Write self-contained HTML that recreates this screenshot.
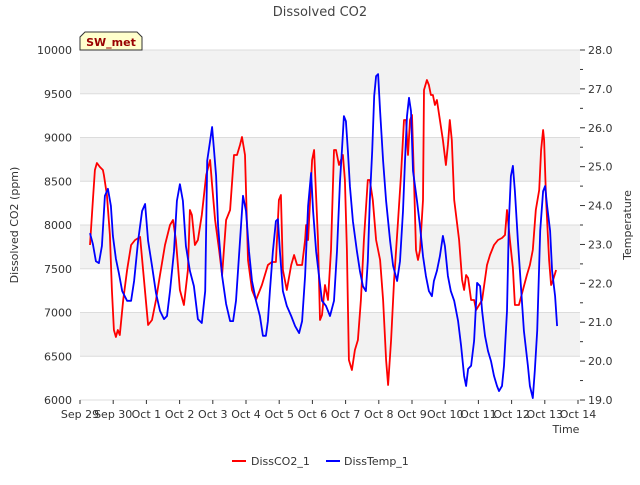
<!DOCTYPE html>
<html><head><meta charset="utf-8"><style>
body{margin:0;background:#fff;font-family:"Liberation Sans","DejaVu Sans",sans-serif}
svg text{font-family:"DejaVu Sans","Liberation Sans",sans-serif}
</style></head><body>
<svg id="c" width="640" height="480"></svg>
<script>
const xDays=[0,1,2,3,4,5,6,7,8,9,10,11,12,13,14,15];
const xLabels=["Sep 29","Sep 30","Oct 1","Oct 2","Oct 3","Oct 4","Oct 5","Oct 6","Oct 7","Oct 8","Oct 9","Oct 10","Oct 11","Oct 12","Oct 13","Oct 14"];
const leftTicks=[6000,6500,7000,7500,8000,8500,9000,9500,10000];
const rightTicks=[19,20,21,22,23,24,25,26,27,28];
const co2Days=[0.30,0.39,0.45,0.51,0.60,0.69,0.72,0.81,0.90,0.96,1.02,1.08,1.14,1.20,1.30,1.42,1.54,1.66,1.81,1.90,2.05,2.17,2.29,2.41,2.56,2.71,2.80,2.89,3.01,3.13,3.25,3.31,3.37,3.46,3.55,3.67,3.80,3.92,3.98,4.07,4.19,4.28,4.40,4.52,4.64,4.73,4.82,4.88,4.97,5.06,5.18,5.30,5.48,5.66,5.78,5.90,5.99,6.05,6.11,6.23,6.36,6.45,6.54,6.69,6.78,6.81,6.87,6.99,7.05,7.17,7.23,7.29,7.38,7.47,7.56,7.65,7.71,7.80,7.92,7.98,8.04,8.10,8.19,8.28,8.37,8.46,8.55,8.67,8.73,8.82,8.92,8.98,9.04,9.13,9.22,9.28,9.37,9.46,9.58,9.67,9.76,9.82,9.88,9.94,10.00,10.06,10.12,10.18,10.24,10.33,10.36,10.45,10.51,10.57,10.63,10.69,10.75,10.84,10.93,11.02,11.08,11.14,11.20,11.27,11.42,11.51,11.57,11.63,11.69,11.78,11.87,11.93,12.02,12.11,12.26,12.35,12.47,12.59,12.71,12.80,12.86,12.95,13.04,13.10,13.22,13.34,13.46,13.55,13.64,13.73,13.83,13.89,13.95,13.98,14.04,14.13,14.19,14.25,14.34];
const co2Vals=[7771,8286,8629,8708,8663,8629,8571,8343,7886,7257,6800,6720,6800,6743,7143,7486,7771,7829,7863,7486,6857,6914,7143,7429,7771,8000,8057,7829,7257,7086,7486,8171,8114,7771,7829,8114,8571,8743,8457,8057,7714,7429,8057,8171,8800,8800,8914,9006,8800,7600,7257,7143,7314,7543,7577,7577,8286,8343,7486,7257,7543,7657,7543,7543,7829,8000,7829,8743,8857,7829,6914,6971,7314,7143,7714,8857,8857,8686,8800,8514,7714,6457,6343,6571,6686,7143,7829,8514,8514,8286,7829,7714,7600,7143,6457,6171,6686,7371,8057,8571,9200,9200,8800,9200,9257,8514,7714,7600,7714,8286,9543,9657,9600,9486,9486,9371,9429,9200,8971,8686,8914,9200,8971,8286,7829,7371,7257,7429,7394,7143,7143,7029,7086,7143,7543,7657,7771,7829,7851,7886,8171,7829,7509,7086,7086,7257,7429,7543,7714,8171,8400,8857,9086,8971,8286,7600,7314,7371,7486];
const tempDays=[0.30,0.39,0.48,0.57,0.66,0.75,0.84,0.93,0.99,1.08,1.17,1.27,1.42,1.54,1.63,1.75,1.87,1.96,2.05,2.17,2.29,2.41,2.53,2.62,2.71,2.83,2.92,3.01,3.10,3.19,3.31,3.43,3.55,3.67,3.77,3.83,3.92,3.98,4.04,4.10,4.16,4.28,4.40,4.52,4.61,4.70,4.82,4.91,5.00,5.09,5.18,5.30,5.42,5.51,5.60,5.66,5.72,5.81,5.90,5.96,6.02,6.11,6.23,6.36,6.48,6.60,6.69,6.78,6.87,6.96,7.02,7.11,7.20,7.29,7.41,7.53,7.65,7.74,7.83,7.89,7.95,8.01,8.07,8.13,8.22,8.34,8.43,8.52,8.61,8.67,8.73,8.80,8.86,8.92,8.98,9.04,9.13,9.22,9.34,9.43,9.55,9.64,9.73,9.79,9.85,9.91,9.97,10.03,10.15,10.24,10.33,10.42,10.51,10.60,10.66,10.75,10.84,10.93,10.99,11.08,11.17,11.27,11.39,11.48,11.57,11.63,11.69,11.78,11.87,11.96,12.05,12.11,12.20,12.29,12.38,12.47,12.56,12.62,12.71,12.77,12.86,12.92,12.98,13.04,13.10,13.19,13.28,13.37,13.49,13.55,13.64,13.70,13.77,13.86,13.95,14.01,14.07,14.16,14.22,14.31,14.37];
const tempVals=[23.29,23.01,22.57,22.52,22.96,24.25,24.43,23.99,23.22,22.63,22.27,21.80,21.55,21.55,22.06,23.09,23.86,24.04,23.09,22.45,21.75,21.29,21.08,21.16,21.80,22.83,24.12,24.55,24.12,22.96,22.32,21.93,21.08,20.98,21.80,25.15,25.66,26.02,25.40,24.76,23.47,22.19,21.47,21.03,21.03,21.55,23.09,24.25,23.86,22.83,22.06,21.55,21.16,20.65,20.65,21.03,21.80,22.83,23.60,23.65,22.83,21.80,21.42,21.16,20.90,20.72,21.03,22.19,23.99,24.84,23.86,22.83,22.19,21.55,21.42,21.16,21.55,22.83,24.63,25.40,26.30,26.17,25.40,24.50,23.60,22.83,22.32,21.93,21.80,22.57,24.12,25.40,26.82,27.33,27.38,26.43,25.15,24.12,23.09,22.45,22.06,22.57,23.86,25.15,26.30,26.77,26.43,24.89,24.12,23.47,22.70,22.19,21.80,21.67,22.06,22.32,22.70,23.22,22.96,22.19,21.80,21.55,21.03,20.39,19.62,19.36,19.80,19.88,20.52,22.01,21.93,21.29,20.65,20.26,20.00,19.62,19.36,19.23,19.36,19.88,21.29,23.60,24.76,25.02,24.37,23.09,21.93,20.78,19.88,19.36,19.05,19.75,20.78,23.35,24.37,24.50,23.99,23.35,22.32,21.67,20.90];

const NS="http://www.w3.org/2000/svg";
const svg=document.getElementById('c');
const L=80,R=580,T=50,B=400;
const xs=d=>L+d*(498/15);
const yl=v=>B-(v-6000)/4000*(B-T);
const yr=v=>B-(v-19)/9*(B-T);
function mk(tag,attrs,parent){const e=document.createElementNS(NS,tag);for(const k in attrs)e.setAttribute(k,attrs[k]);(parent||svg).appendChild(e);return e;}
function txt(s,attrs){const e=mk('text',attrs);e.textContent=s;return e;}

let bg=mk('rect',{x:L,y:T,width:R-L,height:B-T,fill:'#fff'});


for(let v=6500;v<10000;v+=1000){
  const b=mk('rect',{x:L,y:yl(v+500),width:R-L,height:yl(v)-yl(v+500),fill:'#f2f2f2'});
  
  
}
leftTicks.forEach(v=>{
  const g=mk('line',{x1:L,x2:R,y1:yl(v),y2:yl(v),stroke:'#dcdcdc','stroke-width':1});
  
  
  const t=txt(v,{x:L-8,y:yl(v)+4,'text-anchor':'end','font-size':11,fill:'#333'});
  
  
});
rightTicks.forEach(v=>{
  const tk=mk('line',{x1:R,x2:R+5,y1:yr(v),y2:yr(v),stroke:'#333'});
  
  
  if(v<28){const m=mk('line',{x1:R,x2:R+3,y1:yr(v+0.5),y2:yr(v+0.5),stroke:'#333'});
  
  }
  const t=txt(v.toFixed(1),{x:R+8,y:yr(v)+4,'font-size':11,fill:'#333'});
  
  
});
xDays.forEach((d,i)=>{
  const tk=mk('line',{x1:xs(d),x2:xs(d),y1:B,y2:B+4,stroke:'#333'});
  
  
  const t=txt(xLabels[i],{x:xs(d),y:B+18,'text-anchor':'middle','font-size':11,fill:'#333'});
  
  
});
function line(dx,dv,yf,col,name){
  const p=dx.map((d,i)=>(i?'L':'M')+xs(d).toFixed(1)+','+yf(dv[i]).toFixed(1)).join('');
  const e=mk('path',{d:p,fill:'none',stroke:col,'stroke-width':1.8,'stroke-linejoin':'round'});
  
  
}
line(co2Days,co2Vals,yl,'#ff0000','co2-line');
line(tempDays,tempVals,yr,'#0000ff','temp-line');

let t=txt('Dissolved CO2',{x:320,y:16,'text-anchor':'middle','font-size':13,fill:'#444'});


t=txt('Dissolved CO2 (ppm)',{x:18,y:225,'text-anchor':'middle','font-size':11,fill:'#333',transform:'rotate(-90 18 225)'});


t=txt('Temperature',{x:631,y:225,'text-anchor':'middle','font-size':11,fill:'#333',transform:'rotate(-90 631 225)'});


t=txt('Time',{x:566,y:433,'text-anchor':'middle','font-size':11,fill:'#333'});



let box=mk('path',{d:'M80,50 L80,37 L85,32 L137,32 L142,37 L142,50 Z',fill:'#ffffcc',stroke:'#333'});


t=txt('SW_met',{x:111,y:46,'text-anchor':'middle','font-size':11,'font-weight':'bold',fill:'#990000'});



let l1=mk('line',{x1:232,x2:246,y1:461,y2:461,stroke:'#ff0000','stroke-width':2});


t=txt('DissCO2_1',{x:251,y:465,'font-size':11,fill:'#333'});


let l2=mk('line',{x1:326,x2:340,y1:461,y2:461,stroke:'#0000ff','stroke-width':2});


t=txt('DissTemp_1',{x:344,y:465,'font-size':11,fill:'#333'});


</script>
</body></html>
